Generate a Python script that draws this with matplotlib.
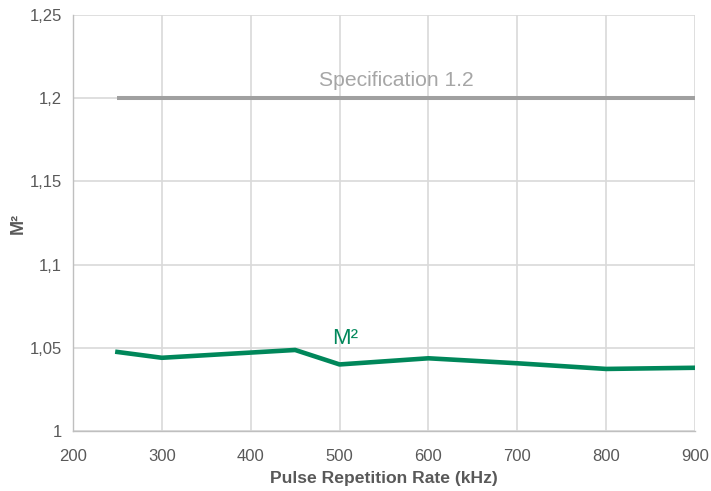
import matplotlib
matplotlib.use("Agg")
import matplotlib.pyplot as plt

plt.rcParams['font.family'] = ['Liberation Sans', 'DejaVu Sans']

rate_khz = [250, 300, 450, 500, 600, 700, 800, 900]
m2_values = [1.0475, 1.044, 1.0487, 1.040, 1.0437, 1.0407, 1.0373, 1.038]
spec_x = [250, 900]
spec_y = [1.2, 1.2]
x_ticks = [200, 300, 400, 500, 600, 700, 800, 900]
y_ticks = [1.0, 1.05, 1.1, 1.15, 1.2, 1.25]
y_labels = ["1", "1,05", "1,1", "1,15", "1,2", "1,25"]

fig = plt.figure(figsize=(7.11, 4.91), dpi=100)
ax = fig.add_axes([73/711, 1-431/491, (695-73)/711, (431-15)/491])

ax.plot(spec_x, spec_y, color='#A0A0A0', lw=2.9, solid_capstyle='butt', zorder=3)
ax.plot(rate_khz, m2_values, color='#00875A', lw=3.3, solid_joinstyle='round', zorder=4)

ax.text(564, 1.2105, "Specification 1.2", color='#A6A6A6', fontsize=15.2, ha='center', va='center')
ax.text(506, 1.0555, "M²", color='#00875A', fontsize=16, ha='center', va='center')

ax.set_xlim(200, 900)
ax.set_ylim(1.0, 1.25)
ax.set_xticks(x_ticks)
ax.set_yticks(y_ticks)
ax.set_yticklabels(y_labels)
ax.grid(True, color='#D9D9D9', lw=1.2)
ax.set_axisbelow(True)
ax.tick_params(length=0, labelsize=12, labelcolor='#595959')
ax.tick_params(axis='y', pad=8)
ax.tick_params(axis='x', pad=13)
for s in ['top', 'right']:
    ax.spines[s].set_visible(False)
for s in ['left', 'bottom']:
    ax.spines[s].set_color('#BFBFBF')
    ax.spines[s].set_linewidth(1.0)

ax.set_xlabel("Pulse Repetition Rate (kHz)", fontsize=12.6, fontweight='bold', color='#595959', labelpad=5)
ax.set_ylabel("M²", fontsize=13, fontweight='bold', color='#595959', labelpad=2)

fig.savefig("out.png", dpi=100)
